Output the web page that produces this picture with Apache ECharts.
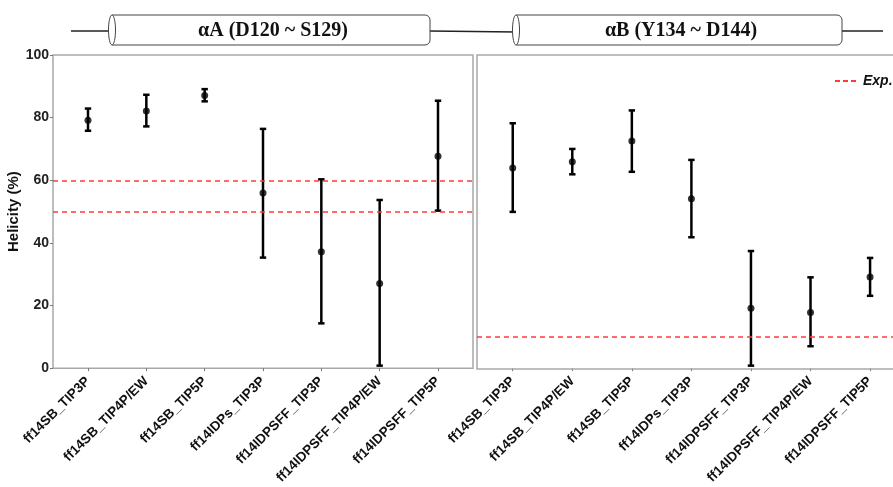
<!DOCTYPE html>
<html>
<head>
<meta charset="utf-8">
<script src="https://cdn.jsdelivr.net/npm/echarts@6/dist/echarts.min.js"></script>
<style>html,body{margin:0;padding:0;background:#fff}#c{width:893px;height:487px}</style>
</head>
<body>
<div id="c"></div>
<script>
const categories = ['ff14SB_TIP3P','ff14SB_TIP4P/EW','ff14SB_TIP5P','ff14IDPs_TIP3P','ff14IDPSFF_TIP3P','ff14IDPSFF_TIP4P/EW','ff14IDPSFF_TIP5P'];
const aMean = [79.2, 82.1, 87.1, 55.9, 37.2, 27.0, 67.7];
const aLow  = [75.8, 77.2, 85.2, 35.3, 14.3, 0.8, 50.3];
const aHigh = [82.9, 87.3, 89.1, 76.4, 60.3, 53.7, 85.4];
const bMean = [63.9, 65.9, 72.5, 54.1, 19.1, 17.8, 29.1];
const bLow  = [49.9, 61.9, 62.7, 41.8, 0.8, 7.0, 23.1];
const bHigh = [78.2, 70.0, 82.3, 66.5, 37.4, 29.0, 35.2];
const aExp = [60, 50];
const bExp = [10];
const panelTitles = ['αA (D120 ~ S129)', 'αB (Y134 ~ D144)'];
const catPos = categories.map((c, i) => i + 1);

const FONT = 'Liberation Sans, Arial, sans-serif';
const RED = '#ff3b3b';
const BORDER = '#a8a8a8';

function errData(lo, hi) { return catPos.map((x, i) => [x, lo[i], hi[i]]); }
function ptData(m) { return catPos.map((x, i) => [x, m[i]]); }

function renderErr(params, api) {
  const x = api.value(0);
  const lo = api.coord([x, api.value(1)]);
  const hi = api.coord([x, api.value(2)]);
  const w = 3.2;
  const st = { stroke: '#000', lineWidth: 2.5 };
  return { type: 'group', children: [
    { type: 'line', shape: { x1: lo[0], y1: lo[1], x2: hi[0], y2: hi[1] }, style: st },
    { type: 'line', shape: { x1: lo[0] - w, y1: lo[1], x2: lo[0] + w, y2: lo[1] }, style: st },
    { type: 'line', shape: { x1: hi[0] - w, y1: hi[1], x2: hi[0] + w, y2: hi[1] }, style: st }
  ]};
}

function xAxis(gi, maxV) {
  return {
    type: 'value', gridIndex: gi, min: 0.4, max: maxV,
    axisLine: { show: false },
    splitLine: { show: false },
    axisTick: { show: true, customValues: catPos, length: 3, lineStyle: { color: '#777' } },
    axisLabel: {
      customValues: catPos, rotate: 45, margin: 11,
      formatter: v => categories[Math.round(v) - 1],
      fontFamily: FONT, fontWeight: 'bold', fontSize: 13.5, color: '#111'
    }
  };
}
function yAxis(gi) {
  const left = gi === 0;
  return {
    type: 'value', gridIndex: gi, min: 0, max: 100, interval: 20,
    splitLine: { show: false },
    axisLine: { show: false },
    axisTick: { show: left, length: 3, lineStyle: { color: '#777' } },
    axisLabel: { show: left, margin: 4, fontFamily: FONT, fontWeight: 'bold', fontSize: 14, color: '#222' },
    name: left ? 'Helicity (%)' : '', nameLocation: 'middle', nameGap: 27, nameRotate: 90,
    nameTextStyle: { fontFamily: FONT, fontWeight: 'bold', fontSize: 15, color: '#111' }
  };
}
function expLine(gi, vals) {
  return {
    type: 'line', name: 'Exp.', xAxisIndex: gi, yAxisIndex: gi, data: [], symbol: 'none',
    lineStyle: { color: RED, type: [5, 4], width: 1.5 },
    itemStyle: { color: RED },
    markLine: {
      silent: true, symbol: 'none', label: { show: false },
      lineStyle: { color: RED, type: [5, 4], width: 1.5 },
      data: vals.map(v => ({ yAxis: v }))
    }
  };
}

const graphics = [];
const lineSt = { stroke: '#222', lineWidth: 1.5 };
graphics.push({ type: 'line', shape: { x1: 71, y1: 31, x2: 111, y2: 31 }, style: lineSt });
graphics.push({ type: 'line', shape: { x1: 430, y1: 31, x2: 516, y2: 32 }, style: lineSt });
graphics.push({ type: 'line', shape: { x1: 842, y1: 31, x2: 883, y2: 31 }, style: lineSt });
const cyl = [[112, 430], [516, 842]];
cyl.forEach((c, i) => {
  graphics.push({ type: 'rect', shape: { x: c[0], y: 15, width: c[1] - c[0], height: 30, r: [0, 5, 5, 0] },
    style: { fill: '#fff', stroke: '#444', lineWidth: 1 } });
  graphics.push({ type: 'ellipse', shape: { cx: c[0], cy: 30, rx: 3.5, ry: 15 },
    style: { fill: '#fff', stroke: '#444', lineWidth: 1 } });
  graphics.push({ type: 'text', x: (c[0] + c[1]) / 2 + 2, y: 31,
    style: { text: panelTitles[i], font: 'bold 20px "Liberation Serif", "Times New Roman", serif',
      fill: '#111', align: 'center', verticalAlign: 'middle' } });
});
// right panel frame: open on the right (panel continues past the image edge)
graphics.push({ type: 'polyline', shape: { points: [[900, 55], [477, 55], [477, 369], [900, 369]] },
  style: { fill: null, stroke: BORDER, lineWidth: 1.5 }, z: 1 });

// right panel: spacing ~59.7px per category, panel runs past the image edge
const rightWidth = 417;
const rightMax = 0.4 + rightWidth / 59.7;

const chart = echarts.init(document.getElementById('c'));
chart.setOption({
  animation: false,
  backgroundColor: '#fff',
  grid: [
    { left: 53, top: 55, width: 420, height: 314, show: true, borderColor: BORDER, borderWidth: 1.5, backgroundColor: 'transparent' },
    { left: 477, top: 55, width: rightWidth, height: 314, show: false }
  ],
  xAxis: [xAxis(0, 7.6), xAxis(1, rightMax)],
  yAxis: [yAxis(0), yAxis(1)],
  legend: {
    left: 835, top: 74, padding: 0, itemWidth: 21, itemHeight: 2, itemGap: 5,
    data: [{ name: 'Exp.', icon: 'path://M0,0h5v2h-5z M8,0h5v2h-5z M16,0h5v2h-5z' }],
    itemStyle: { color: RED },
    textStyle: { fontFamily: FONT, fontWeight: 'bold', fontStyle: 'italic', fontSize: 14, color: '#111', padding: [0, 0, 0, 2] }
  },
  graphic: graphics,
  series: [
    expLine(0, aExp),
    expLine(1, bExp),
    { type: 'custom', xAxisIndex: 0, yAxisIndex: 0, renderItem: renderErr, encode: { x: 0, y: [1, 2] }, data: errData(aLow, aHigh), z: 3 },
    { type: 'custom', xAxisIndex: 1, yAxisIndex: 1, renderItem: renderErr, encode: { x: 0, y: [1, 2] }, data: errData(bLow, bHigh), z: 3 },
    { type: 'scatter', xAxisIndex: 0, yAxisIndex: 0, data: ptData(aMean), symbolSize: 7, itemStyle: { color: '#000' }, z: 4 },
    { type: 'scatter', xAxisIndex: 1, yAxisIndex: 1, data: ptData(bMean), symbolSize: 7, itemStyle: { color: '#000' }, z: 4 }
  ]
});
</script>
</body>
</html>
